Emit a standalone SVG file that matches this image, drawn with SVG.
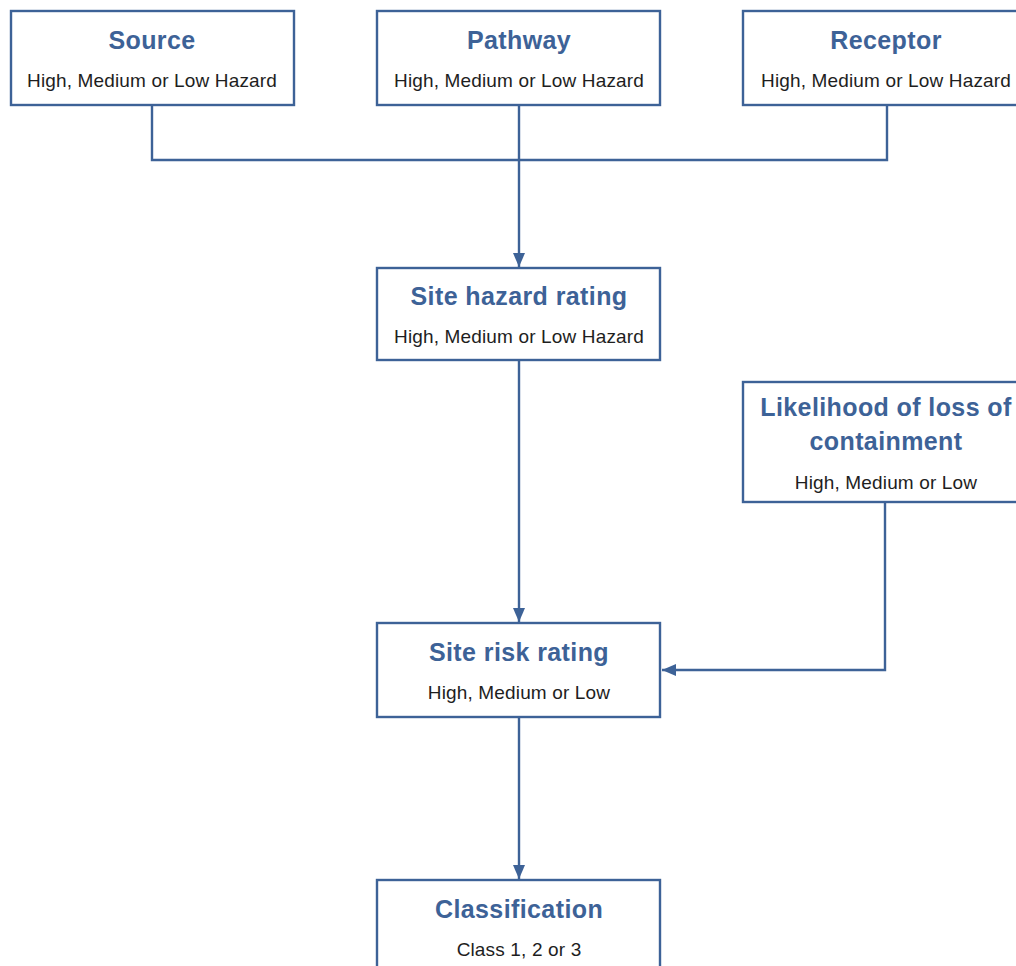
<svg xmlns="http://www.w3.org/2000/svg" width="1016" height="966" viewBox="0 0 1016 966">
<style>
.box{fill:#fff;stroke:#3d6297;stroke-width:2.4}
.t{font-family:"Liberation Sans",Arial,sans-serif;font-weight:bold;font-size:25px;fill:#3d6297;text-anchor:middle;letter-spacing:0.4px}
.s{font-family:"Liberation Sans",Arial,sans-serif;font-size:19px;fill:#1e1e1e;text-anchor:middle;letter-spacing:0.15px}
.c{fill:none;stroke:#3d6297;stroke-width:2.4}
</style>
<defs>
<marker id="ah2" viewBox="0 0 14 12" refX="14" refY="6" markerWidth="14" markerHeight="12" markerUnits="userSpaceOnUse" orient="auto">
<path d="M0,0 L14,6 L0,12 Z" fill="#3d6297"/>
</marker>
</defs>
<rect width="1016" height="966" fill="#fff"/>
<g id="connectors">
<polyline class="c" points="152,105 152,160 887,160 887,105"/>
<line class="c" x1="519" y1="105" x2="519" y2="267" marker-end="url(#ah2)"/>
<line class="c" x1="519" y1="360" x2="519" y2="622" marker-end="url(#ah2)"/>
<polyline class="c" points="885,502 885,670 662,670" marker-end="url(#ah2)"/>
<line class="c" x1="519" y1="717" x2="519" y2="879" marker-end="url(#ah2)"/>
</g>
<g id="source">
<rect class="box" x="11" y="11" width="283" height="94"/>
<text class="t" x="152" y="49">Source</text>
<text class="s" x="152" y="87">High, Medium or Low Hazard</text>
</g>
<g id="pathway">
<rect class="box" x="377" y="11" width="283" height="94"/>
<text class="t" x="519" y="49">Pathway</text>
<text class="s" x="519" y="87">High, Medium or Low Hazard</text>
</g>
<g id="receptor">
<rect class="box" x="743" y="11" width="290" height="94"/>
<text class="t" x="886" y="49">Receptor</text>
<text class="s" x="886" y="87">High, Medium or Low Hazard</text>
</g>
<g id="site-hazard">
<rect class="box" x="377" y="268" width="283" height="92"/>
<text class="t" x="519" y="305">Site hazard rating</text>
<text class="s" x="519" y="343">High, Medium or Low Hazard</text>
</g>
<g id="likelihood">
<rect class="box" x="743" y="382" width="290" height="120"/>
<text class="t" x="886" y="416">Likelihood of loss of</text>
<text class="t" x="886" y="450">containment</text>
<text class="s" x="886" y="489">High, Medium or Low</text>
</g>
<g id="site-risk">
<rect class="box" x="377" y="623" width="283" height="94"/>
<text class="t" x="519" y="661">Site risk rating</text>
<text class="s" x="519" y="699">High, Medium or Low</text>
</g>
<g id="classification">
<rect class="box" x="377" y="880" width="283" height="100"/>
<text class="t" x="519" y="918">Classification</text>
<text class="s" x="519" y="956">Class 1, 2 or 3</text>
</g>
</svg>
